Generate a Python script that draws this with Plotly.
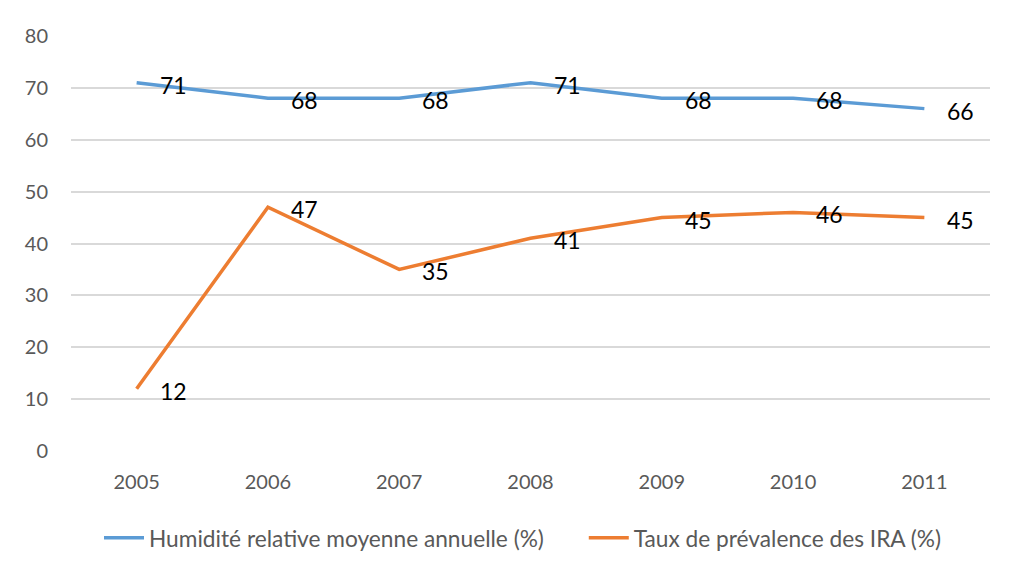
import plotly.graph_objects as go

years = ["2005", "2006", "2007", "2008", "2009", "2010", "2011"]
humidite = [71, 68, 68, 71, 68, 68, 66]
ira = [12, 47, 35, 41, 45, 46, 45]
name_hum = "Humidité relative moyenne annuelle (%)"
name_ira = "Taux de prévalence des IRA (%)"

BLUE = "#5B9BD5"
ORANGE = "#ED7D31"
FONT = "Lato"

fig = go.Figure()
fig.add_trace(go.Scatter(x=years, y=humidite, name=name_hum + "\u00a0" * 6, mode="lines",
                         line=dict(color=BLUE, width=3.5)))
fig.add_trace(go.Scatter(x=years, y=ira, name=name_ira, mode="lines",
                         line=dict(color=ORANGE, width=3.5)))

annotations = []
for series in (humidite, ira):
    for i, v in enumerate(series):
        annotations.append(dict(x=i, y=v, xref="x", yref="y", text=str(v),
                                showarrow=False, xanchor="left", yanchor="middle",
                                xshift=21, yshift=-2,
                                font=dict(family=FONT, size=23, color="#000000")))

# page body has an 8px margin: shift everything by -8
OFF = 8
FW, FH = 1014 - OFF, 568 - OFF
L, T = 71 - OFF, 36 - OFF
W, H = 919, 415
fig.update_layout(
    width=FW, height=FH,
    margin=dict(l=L, r=FW - L - W, t=T, b=FH - T - H, autoexpand=False),
    paper_bgcolor="white", plot_bgcolor="white",
    font=dict(family=FONT, color="#595959"),
    showlegend=True,
    legend=dict(orientation="h", x=(99 - OFF - L) / W, xanchor="left",
                y=(T + H - (538 - OFF)) / H, yanchor="middle",
                font=dict(family=FONT, size=22.7, color="#595959"),
                itemwidth=40),
    annotations=annotations,
    shapes=[dict(type="rect", xref="paper", yref="paper",
                 x0=(7 - OFF - L) / W, x1=(1030 - L) / W,
                 y0=(T + H - 600) / H, y1=1 + (T - (7 - OFF)) / H,
                 line=dict(color="#D9D9D9", width=1.5), fillcolor="rgba(0,0,0,0)",
                 layer="below")],
)
fig.update_xaxes(type="category", range=[-0.5, 6.5], showgrid=False, automargin=False,
                 showline=False, ticks="", ticklabelstandoff=17,
                 tickfont=dict(family=FONT, size=20, color="#595959"))
fig.update_yaxes(range=[0, 80], dtick=10, showgrid=True, gridcolor="#D9D9D9", gridwidth=1.5,
                 zeroline=False, showline=False, ticks="", ticklabelstandoff=22, automargin=False,
                 tickfont=dict(family=FONT, size=20, color="#595959"))

fig.write_html("out.html")
